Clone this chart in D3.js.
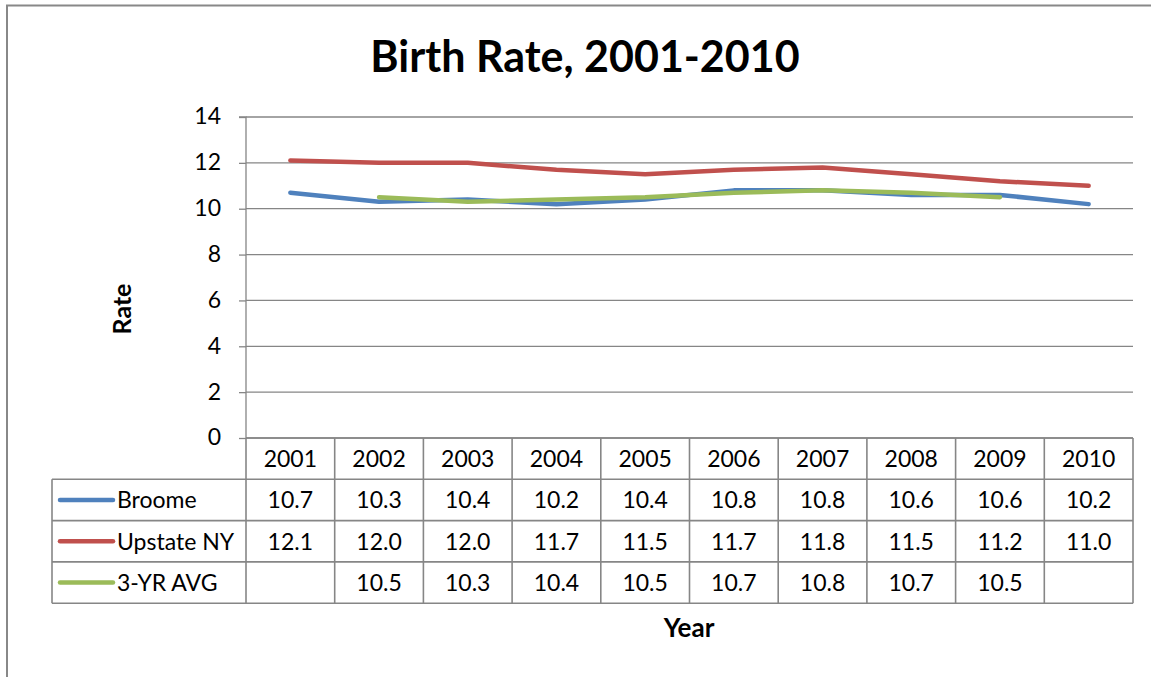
<!DOCTYPE html>
<html><head><meta charset="utf-8">
<script src="https://cdn.jsdelivr.net/npm/d3@7"></script>
<style>body{margin:0;background:#fff;} svg{display:block;font-family:Lato,"Open Sans",sans-serif;}</style>
</head><body>
<svg id="c" width="1151" height="677"></svg>
<script>
const years = ["2001","2002","2003","2004","2005","2006","2007","2008","2009","2010"];
const broome = [10.7,10.3,10.4,10.2,10.4,10.8,10.8,10.6,10.6,10.2];
const upstate = [12.1,12.0,12.0,11.7,11.5,11.7,11.8,11.5,11.2,11.0];
const avg3 = [null,10.5,10.3,10.4,10.5,10.7,10.8,10.7,10.5,null];
const yTicks = [0,2,4,6,8,10,12,14];
const seriesNames = ["Broome","Upstate NY","3-YR AVG"];
const seriesColors = ["#4F81BD","#C0504D","#9BBB59"];

const series = [broome, upstate, avg3].map((v,i)=>({name:seriesNames[i], color:seriesColors[i], values:v}));

const svg = d3.select("#c");
const L = 246, R = 1133, T = 117, B = 438;
const rowH = 41.3;
const grid = "#868686";
const fs = 23;

svg.append("rect").attr("x",7).attr("y",5.5).attr("width",1160).attr("height",700)
  .attr("fill","none").attr("stroke","#888").attr("stroke-width",2);

svg.append("text").attr("x",585).attr("y",72).attr("text-anchor","middle")
  .attr("font-size",43).attr("font-weight","bold").text("Birth Rate, 2001-2010");

const x = d3.scaleBand().domain(years).range([L,R]).padding(0);
const y = d3.scaleLinear().domain([0,14]).range([B,T]);

svg.append("g").selectAll("line").data(yTicks).join("line")
  .attr("x1",L).attr("x2",R).attr("y1",d=>y(d)).attr("y2",d=>y(d))
  .attr("stroke",grid).attr("stroke-width",1.3);

const yAxis = svg.append("g").attr("transform",`translate(${L},0)`)
  .call(d3.axisLeft(y).tickValues(yTicks).tickSize(7).tickPadding(18).tickFormat(d3.format("d")));
yAxis.select(".domain").attr("stroke",grid).attr("stroke-width",1.3).attr("d",`M-7,${T}H0V${B}`);
yAxis.selectAll(".tick line").attr("stroke",grid).attr("stroke-width",1.3);
yAxis.selectAll(".tick text").attr("font-size",fs).attr("font-family","Lato").attr("fill","#000").attr("dy","0.3em");

svg.append("text").attr("transform",`translate(131,309) rotate(-90)`).attr("text-anchor","middle")
  .attr("font-size",25).attr("font-weight","bold").text("Rate");

const line = d3.line().defined(d=>d.v!=null).x(d=>x(d.y)+x.bandwidth()/2).y(d=>y(d.v));
svg.append("g").selectAll("path").data(series).join("path")
  .attr("d",s=>line(s.values.map((v,i)=>({y:years[i],v}))))
  .attr("fill","none").attr("stroke",s=>s.color).attr("stroke-width",4.5)
  .attr("stroke-linecap","round").attr("stroke-linejoin","round");

const tbl = svg.append("g");
const legL = 52;
const rowYs = [B, B+rowH, B+2*rowH, B+3*rowH, B+4*rowH];
tbl.selectAll("line.h").data(rowYs).join("line").attr("class","h")
  .attr("x1",(d,i)=>i===0?L:legL).attr("x2",R).attr("y1",d=>d).attr("y2",d=>d)
  .attr("stroke",grid).attr("stroke-width",1.6);
const colXs = years.map(d=>x(d)).concat([R]);
tbl.selectAll("line.v").data(colXs).join("line").attr("class","v")
  .attr("x1",d=>d).attr("x2",d=>d).attr("y1",B).attr("y2",B+4*rowH)
  .attr("stroke",grid).attr("stroke-width",1.6);
tbl.append("line").attr("x1",legL).attr("x2",legL).attr("y1",B+rowH).attr("y2",B+4*rowH)
  .attr("stroke",grid).attr("stroke-width",1.6);

tbl.selectAll("text.yr").data(years).join("text").attr("class","yr")
  .attr("x",d=>x(d)+x.bandwidth()/2).attr("y",B+rowH/2).attr("dy","0.36em")
  .attr("text-anchor","middle").attr("font-size",fs).text(d=>d);

series.forEach((s,si)=>{
  const cy = B+rowH*(si+1)+rowH/2;
  tbl.append("line").attr("x1",60).attr("x2",113).attr("y1",cy).attr("y2",cy)
    .attr("stroke",s.color).attr("stroke-width",4.5).attr("stroke-linecap","round");
  tbl.append("text").attr("x",117).attr("y",cy).attr("dy","0.36em").attr("font-size",fs).text(s.name);
  tbl.selectAll(null).data(s.values.map((v,i)=>({v,yr:years[i]})).filter(d=>d.v!=null)).join("text")
    .attr("x",d=>x(d.yr)+x.bandwidth()/2).attr("y",cy).attr("dy","0.36em")
    .attr("text-anchor","middle").attr("font-size",fs).text(d=>d3.format(".1f")(d.v));
});

svg.append("text").attr("x",689).attr("y",637).attr("text-anchor","middle")
  .attr("font-size",26).attr("font-weight","bold").text("Year");
</script>
</body></html>
